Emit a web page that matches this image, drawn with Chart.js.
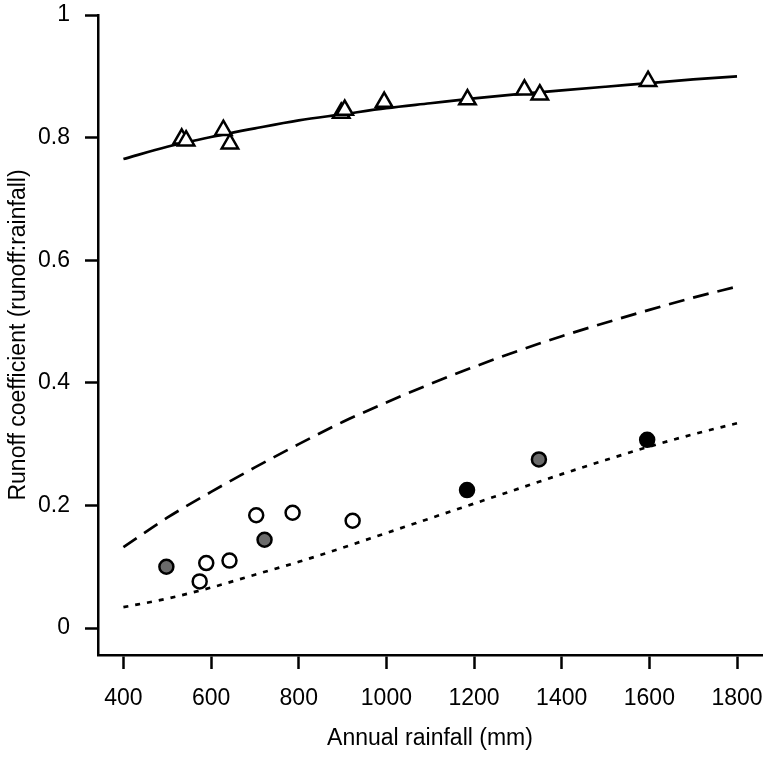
<!DOCTYPE html>
<html>
<head>
<meta charset="utf-8">
<script src="https://cdn.jsdelivr.net/npm/chart.js@4"></script>
<style>
html,body{margin:0;padding:0;background:#fff;}
#wrap{width:770px;height:757px;}
</style>
</head>
<body>
<div id="wrap"><canvas id="c" width="770" height="757"></canvas></div>
<script>
// ---- data ----
const xTicks = [400, 600, 800, 1000, 1200, 1400, 1600, 1800];
const yTicks = [0, 0.2, 0.4, 0.6, 0.8, 1];
const yTickLabels = ['0', '0.2', '0.4', '0.6', '0.8', '1'];

const triX = [533, 543, 628, 643, 897, 905, 995, 1185, 1315, 1350, 1597];
const triY = [0.798, 0.795, 0.812, 0.790, 0.840, 0.845, 0.858, 0.862, 0.878, 0.870, 0.892];

const openX = [574, 589, 642, 703, 786, 923];
const openY = [0.076, 0.106, 0.110, 0.184, 0.188, 0.175];

const grayX = [498, 722, 1348];
const grayY = [0.100, 0.144, 0.275];

const blackX = [1184, 1595];
const blackY = [0.225, 0.307];

const curveX = [400, 500, 600, 700, 800, 900, 1000, 1100, 1200, 1300, 1400, 1500, 1600, 1700, 1800];
const solidY = [0.765, 0.785, 0.801, 0.815, 0.828, 0.838, 0.848, 0.856, 0.864, 0.871, 0.877, 0.883, 0.889, 0.895, 0.900];
const dashedY = [0.132, 0.180, 0.222, 0.262, 0.300, 0.336, 0.368, 0.398, 0.426, 0.452, 0.476, 0.498, 0.519, 0.539, 0.557];
const dottedY = [0.034, 0.048, 0.066, 0.087, 0.108, 0.131, 0.155, 0.179, 0.203, 0.227, 0.251, 0.274, 0.296, 0.316, 0.334];

const xTitle = 'Annual rainfall (mm)';
const yTitle = 'Runoff coefficient (runoff:rainfall)';

// ---- build ----
const pts = (xs, ys) => xs.map((x, i) => ({x: x, y: ys[i]}));
const FONT = 'Liberation Sans, Arial, sans-serif';

const lineDs = (ys, dash) => ({
  data: pts(curveX, ys),
  showLine: true,
  borderColor: '#000',
  borderWidth: 2.7,
  borderDash: dash,
  pointRadius: 0,
  fill: false,
  cubicInterpolationMode: 'monotone',
  order: 2
});

const pointDs = (xs, ys, style, radius, bg) => ({
  data: pts(xs, ys),
  showLine: false,
  pointStyle: style,
  pointRadius: radius,
  pointBackgroundColor: bg,
  pointBorderColor: '#000',
  pointBorderWidth: 2.5,
  order: 1
});

new Chart(document.getElementById('c'), {
  type: 'scatter',
  data: {
    datasets: [
      pointDs(triX, triY, 'triangle', 9.5, '#fff'),
      pointDs(openX, openY, 'circle', 7, '#fff'),
      pointDs(grayX, grayY, 'circle', 7, '#6b6b6b'),
      pointDs(blackX, blackY, 'circle', 7, '#000'),
      lineDs(solidY, []),
      lineDs(dashedY, [16, 9]),
      lineDs(dottedY, [5, 7])
    ]
  },
  options: {
    responsive: false,
    animation: false,
    devicePixelRatio: 1,
    layout: {autoPadding: false, padding: {top: 15, right: 8, left: 0, bottom: 0}},
    plugins: {legend: {display: false}, tooltip: {enabled: false}},
    scales: {
      x: {
        type: 'linear',
        min: 342,
        max: 1857,
        afterBuildTicks: s => { s.ticks = xTicks.map(v => ({value: v})); },
        afterFit: s => { s.height = 102; s.paddingLeft = 0; s.paddingRight = 0; },
        border: {display: true, color: '#000', width: 2.5},
        grid: {display: true, drawOnChartArea: false, drawTicks: true, tickLength: 14, tickWidth: 2.5, tickColor: '#000'},
        ticks: {color: '#000', font: {family: FONT, size: 23}, padding: 16, maxRotation: 0, autoSkip: false,
                callback: v => String(v)},
        title: {display: true, text: xTitle, color: '#000', font: {family: FONT, size: 23}, padding: {top: 0, bottom: 5}}
      },
      y: {
        type: 'linear',
        min: -0.044,
        max: 1,
        afterBuildTicks: s => { s.ticks = yTicks.map(v => ({value: v})); },
        afterFit: s => { s.width = 98; s.paddingTop = 0; s.paddingBottom = 0; },
        border: {display: true, color: '#000', width: 2.5},
        grid: {display: true, drawOnChartArea: false, drawTicks: true, tickLength: 13, tickWidth: 2.5, tickColor: '#000'},
        ticks: {color: '#000', font: {family: FONT, size: 23}, padding: 15, autoSkip: false,
                callback: v => { const i = yTicks.indexOf(v); return i >= 0 ? yTickLabels[i] : ''; }},
        title: {display: true, text: yTitle, color: '#000', font: {family: FONT, size: 23}, padding: {top: 5, bottom: 0}}
      }
    }
  }
});
</script>
</body>
</html>
